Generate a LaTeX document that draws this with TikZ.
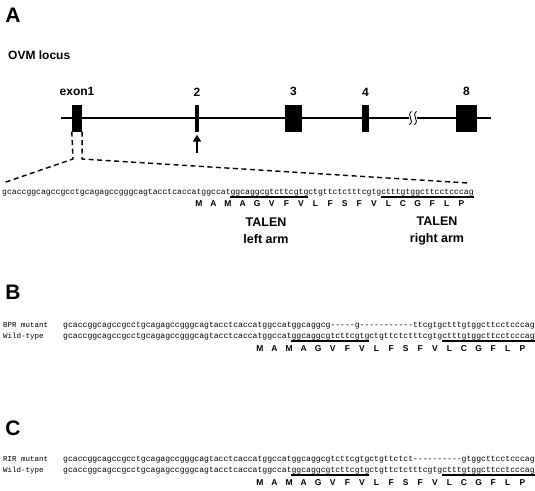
\documentclass[tikz,border=0pt]{standalone}
\usepackage{fontspec}
\setmainfont{Liberation Sans}
\setmonofont{Liberation Mono}
\usepackage{tikz}
\usetikzlibrary{arrows.meta, positioning, calc}

\newcommand{\cw}{4.861}
\newcommand{\wtseq}{gcaccggcagccgcctgcagagccgggcagtacctcaccatggccatggcaggcgtcttcgtgctgttctctttcgtgctttgtggcttcctcccag}
\newcommand{\bprseq}{gcaccggcagccgcctgcagagccgggcagtacctcaccatggccatggcaggcg-----g-----------ttcgtgctttgtggcttcctcccag}
\newcommand{\rirseq}{gcaccggcagccgcctgcagagccgggcagtacctcaccatggccatggcaggcgtcttcgtgctgttctct----------gtggcttcctcccag}

\begin{document}
\begin{tikzpicture}[x=1pt, y=-1pt]
    % Define styles
    \tikzstyle{panel} = [inner sep=0, font=\fontsize{21}{23}\selectfont\bfseries]
    \tikzstyle{title} = [inner sep=0, anchor=west, font=\fontsize{12}{14}\selectfont\bfseries]
    \tikzstyle{exon} = [rectangle, fill=black, inner sep=0, minimum height=27pt]
    \tikzstyle{exonlabel} = [inner sep=0, font=\fontsize{12}{14}\selectfont\bfseries]
    \tikzstyle{geneline} = [line width=1.6pt]
    \tikzstyle{zoomline} = [line width=1.4pt, dash pattern=on 5pt off 3.5pt]
    \tikzstyle{seq} = [inner sep=0, anchor=base west, font=\ttfamily\fontsize{8.1}{9}\selectfont]
    \tikzstyle{rowlabel} = [inner sep=0, anchor=base west, font=\ttfamily\fontsize{7.5}{9}\selectfont]
    \tikzstyle{aa} = [inner sep=0, anchor=base, font=\fontsize{8.5}{9}\selectfont\bfseries]
    \tikzstyle{talenline} = [line width=1.1pt]
    \tikzstyle{talen} = [inner sep=0, align=center, font=\fontsize{12.5}{17}\selectfont\bfseries]

    \useasboundingbox (0,0) rectangle (535,490);

    % Panel A: OVM locus
    \node[panel] (panA) at (13,15) {A};
    \node[title] (locus) at (8,55) {OVM locus};

    \coordinate (lstart) at (61,118);
    \coordinate (lend) at (491,118);
    \draw[geneline] (lstart) -- (lend);

    \node[exon, minimum width=10pt] (ex1) at (77,118) {};
    \node[exon, minimum width=4pt] (ex2) at (197,118) {};
    \node[exon, minimum width=17pt] (ex3) at (293.5,118) {};
    \node[exon, minimum width=7pt] (ex4) at (365.5,118) {};
    \node[exon, minimum width=21pt] (ex8) at (466.5,118) {};

    \node[exonlabel, above=8pt of ex1] (lab1) {exon1};
    \node[exonlabel, above=8pt of ex2] (lab2) {2};
    \node[exonlabel, above=8pt of ex3] (lab3) {3};
    \node[exonlabel, above=8pt of ex4] (lab4) {4};
    \node[exonlabel, above=8pt of ex8] (lab8) {8};

    % break in the line
    \node[fill=white, inner sep=0, minimum width=8pt, minimum height=13pt] (brk) at (413,118) {};
    \foreach \dx in {-2.5,2.5}
        \draw[line width=0.9pt] ($(brk.north)+(\dx+1,0)$) .. controls ($(brk.center)+(\dx-4.5,-2)$) and ($(brk.center)+(\dx+4.5,2)$) .. ($(brk.south)+(\dx-1,0)$);

    % TALEN site
    \coordinate (arrtail) at (197,153);
    \draw[line width=1.8pt, -{Triangle[length=7pt, width=8pt]}] (arrtail) -- ([yshift=-3pt]ex2.south);

    % zoom into exon1
    \coordinate (zl) at (73,159);
    \coordinate (zr) at (82,159);
    \coordinate (zlend) at (3,183);
    \coordinate (zrend) at (468,183);
    \draw[zoomline] (ex1.south west) -- (zl) -- (zlend);
    \draw[zoomline] (ex1.south east) -- (zr) -- (zrend);

    \node[seq] (seqA) at (2,194) {\wtseq};
    \draw[talenline] ($(seqA.base west)+({47*\cw},3)$) -- ($(seqA.base west)+({63*\cw},3)$);
    \draw[talenline] ($(seqA.base west)+({78*\cw},3)$) -- ($(seqA.base west)+({97*\cw},3)$);
    \foreach \a [count=\i from 0] in {M,A,M,A,G,V,F,V,L,F,S,F,V,L,C,G,F,L,P}
        \node[aa] (aaA\i) at ($(seqA.base west)+({(40.5+3*\i)*\cw},12)$) {\a};

    \node[talen] (tleft) at (266,231) {TALEN\\left arm};
    \node[talen] (tright) at (437,231) {TALEN\\right arm};

    % Panel B: BPR mutant
    \node[panel] (panB) at (13,292) {B};
    \node[rowlabel] (labBmut) at (3,327) {BPR mutant};
    \node[rowlabel] (labBwt) at (3,338) {Wild-type};
    \node[seq] (seqBmut) at (63,327) {\bprseq};
    \node[seq] (seqBwt) at (63,338) {\wtseq};
    \draw[talenline] ($(seqBwt.base west)+({47*\cw},3)$) -- ($(seqBwt.base west)+({63*\cw},3)$);
    \draw[talenline] ($(seqBwt.base west)+({78*\cw},3)$) -- ($(seqBwt.base west)+({97*\cw},3)$);
    \foreach \a [count=\i from 0] in {M,A,M,A,G,V,F,V,L,F,S,F,V,L,C,G,F,L,P}
        \node[aa] (aaB\i) at ($(seqBwt.base west)+({(40.5+3*\i)*\cw},13)$) {\a};

    % Panel C: RIR mutant
    \node[panel] (panC) at (13,428) {C};
    \node[rowlabel] (labCmut) at (3,461) {RIR mutant};
    \node[rowlabel] (labCwt) at (3,472) {Wild-type};
    \node[seq] (seqCmut) at (63,461) {\rirseq};
    \node[seq] (seqCwt) at (63,472) {\wtseq};
    \draw[talenline] ($(seqCwt.base west)+({47*\cw},3)$) -- ($(seqCwt.base west)+({63*\cw},3)$);
    \draw[talenline] ($(seqCwt.base west)+({78*\cw},3)$) -- ($(seqCwt.base west)+({97*\cw},3)$);
    \foreach \a [count=\i from 0] in {M,A,M,A,G,V,F,V,L,F,S,F,V,L,C,G,F,L,P}
        \node[aa] (aaC\i) at ($(seqCwt.base west)+({(40.5+3*\i)*\cw},13)$) {\a};
\end{tikzpicture}
\end{document}
